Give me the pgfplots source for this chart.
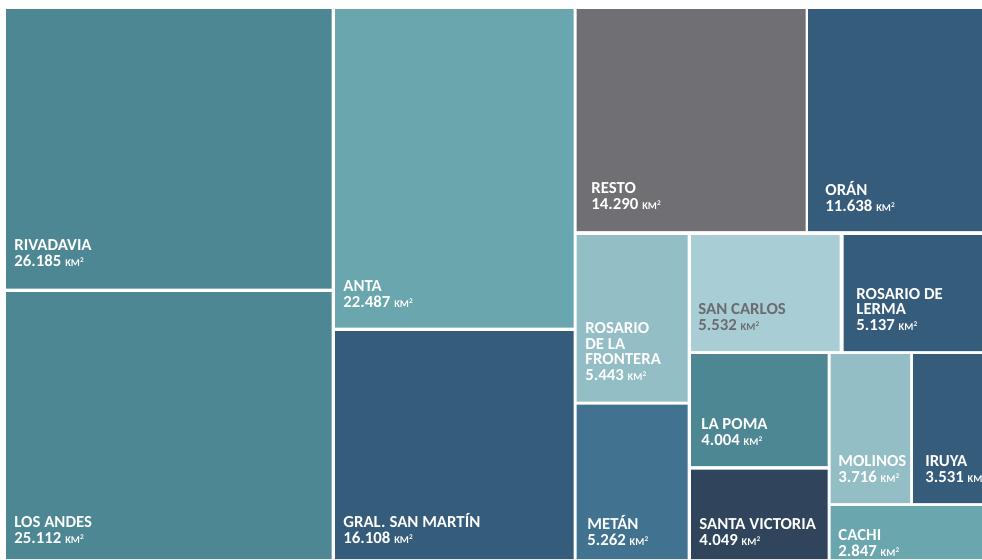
\documentclass[border=0pt]{standalone}
\usepackage{fontspec}
\setmainfont{Carlito}
\usepackage{pgfplots}
\pgfplotsset{compat=1.18}
\definecolor{cTeal}{RGB}{78,135,148}
\definecolor{cLight}{RGB}{106,166,174}
\definecolor{cNavy}{RGB}{54,92,124}
\definecolor{cGray}{RGB}{112,112,116}
\definecolor{cPale}{RGB}{148,190,198}
\definecolor{cPaler}{RGB}{168,205,212}
\definecolor{cMid}{RGB}{65,114,143}
\definecolor{cDark}{RGB}{48,68,92}
\definecolor{cText}{RGB}{108,108,112}
\newcommand\rect[5]{\addplot[fill=#5,draw=none,forget plot] coordinates {(#1,#2)(#3,#2)(#3,#4)(#1,#4)(#1,#2)};}
\newcommand\km{{\fontsize{5.2}{6}\selectfont KM\textsuperscript{2}}}
\newcommand\lab[4][white]{\node[anchor=south west,inner sep=0pt,align=left,text=#1,font=\bfseries\fontsize{8.4}{7.8}\selectfont] at (axis cs:#2,#3) {#4};}
\begin{document}
\begin{tikzpicture}
\clip (0,0) rectangle (491pt,279.5pt);
\begin{axis}[scale only axis, width=491pt, height=279.5pt,
  xmin=0, xmax=982, ymin=0, ymax=559, y dir=reverse,
  hide axis, clip=false]
\rect{0}{0}{982}{559}{white}
% treemap cells (pixel coordinates: x1, ytop, x2, ybottom)
\rect{6}{9}{331.5}{288.5}{cTeal}      % Rivadavia
\rect{6}{292}{331.5}{559}{cTeal}      % Los Andes
\rect{335}{9}{573.5}{327.5}{cLight}   % Anta
\rect{335}{331}{573.5}{559}{cNavy}    % Gral. San Martin
\rect{576.5}{9}{805.5}{231}{cGray}    % Resto
\rect{808}{9}{982}{231}{cNavy}        % Oran
\rect{576.5}{235}{687.5}{401.5}{cPale}  % Rosario de la Frontera
\rect{576.5}{404.5}{687.5}{559}{cMid}   % Metan
\rect{691}{235}{839.5}{351}{cPaler}     % San Carlos
\rect{843.5}{235}{982}{351}{cNavy}      % Rosario de Lerma
\rect{691}{354}{827.5}{466}{cTeal}      % La Poma
\rect{691}{469.5}{827.5}{559}{cDark}    % Santa Victoria
\rect{830.5}{354}{910}{503}{cPale}      % Molinos
\rect{913}{354}{982}{503}{cNavy}        % Iruya
\rect{830.5}{506}{982}{559}{cLight}     % Cachi
% labels
\lab{14}{267}{RIVADAVIA\\26.185 \km}
\lab{14}{544}{LOS ANDES\\25.112 \km}
\lab{343}{308}{ANTA\\22.487 \km}
\lab{343}{544}{GRAL. SAN MARTÍN\\16.108 \km}
\lab{591}{210}{RESTO\\14.290 \km}
\lab{825}{212}{ORÁN\\11.638 \km}
\lab{585}{381}{ROSARIO\\DE LA\\FRONTERA\\5.443 \km}
\lab[cText]{698}{331}{SAN CARLOS\\5.532 \km}
\lab{856}{331}{ROSARIO DE\\LERMA\\5.137 \km}
\lab{701}{446}{LA POMA\\4.004 \km}
\lab{699}{546}{SANTA VICTORIA\\4.049 \km}
\lab{838}{483}{MOLINOS\\3.716 \km}
\lab{925}{483}{IRUYA\\3.531 \km}
\lab{838}{557}{CACHI\\2.847 \km}
\lab{587}{546}{METÁN\\5.262 \km}
\end{axis}
\end{tikzpicture}
\end{document}
